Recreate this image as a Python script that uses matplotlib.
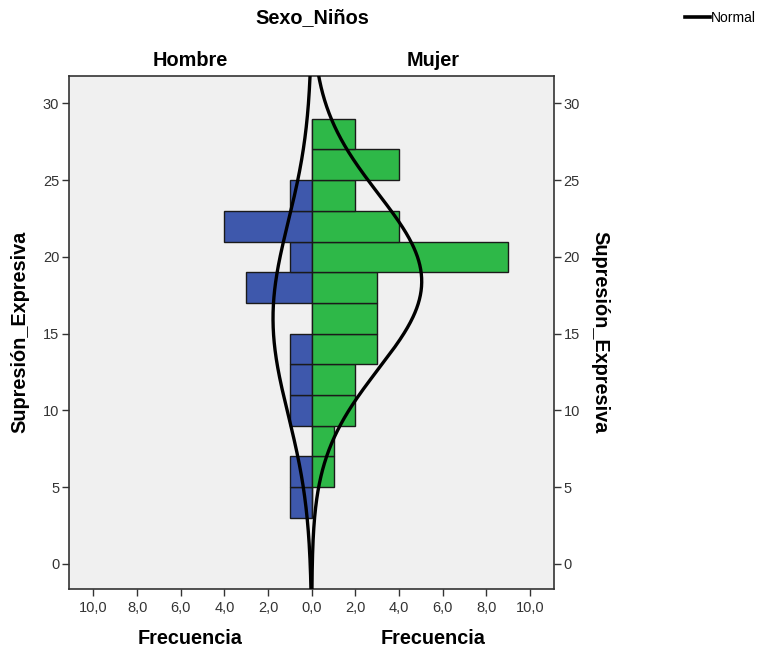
import numpy as np
import matplotlib
matplotlib.use("Agg")
import matplotlib.pyplot as plt
from matplotlib.ticker import FixedLocator, FuncFormatter

plt.rcParams['font.family'] = ['Liberation Sans', 'DejaVu Sans']

# ---- data ----
bin_edges_low = [3, 5, 7, 9, 11, 13, 15, 17, 19, 21, 23, 25, 27]
bin_width = 2
hombre_counts = [1, 1, 0, 1, 1, 1, 0, 3, 1, 4, 1, 0, 0]
mujer_counts = [0, 1, 1, 2, 2, 3, 3, 3, 9, 4, 2, 4, 2]
hombre_mean, hombre_sd = 16.0, 6.3
mujer_mean, mujer_sd = 18.4, 5.7
x_ticks = [-10, -8, -6, -4, -2, 0, 2, 4, 6, 8, 10]
y_ticks = [0, 5, 10, 15, 20, 25, 30]

blue = '#3E58AC'
green = '#2EB848'

fig = plt.figure(figsize=(7.57, 6.52), dpi=100)
ax = fig.add_axes([69/757, 1-589/652, (554-69)/757, (589-76)/652])
ax.set_facecolor('#F0F0F0')

lows = np.array(bin_edges_low)
ax.barh(lows, -np.array(hombre_counts), height=bin_width, align='edge',
        color=blue, edgecolor='#1a1a1a', linewidth=1.0, zorder=2)
ax.barh(lows, np.array(mujer_counts), height=bin_width, align='edge',
        color=green, edgecolor='#1a1a1a', linewidth=1.0, zorder=2)

ys = np.linspace(-2, 33, 500)
def normal_curve(counts, mu, sd):
    n = sum(counts)
    return n * bin_width * np.exp(-0.5 * ((ys - mu) / sd) ** 2) / (sd * np.sqrt(2 * np.pi))

ax.plot(-normal_curve(hombre_counts, hombre_mean, hombre_sd), ys, color='black', lw=2.4, zorder=3)
ax.plot(normal_curve(mujer_counts, mujer_mean, mujer_sd), ys, color='black', lw=2.4, zorder=3)

ax.set_xlim(-11.12, 11.1)
ax.set_ylim(-1.63, 31.78)

ax.xaxis.set_major_locator(FixedLocator(x_ticks))
ax.xaxis.set_major_formatter(FuncFormatter(lambda v, p: f"{abs(v):.1f}".replace('.', ',')))
ax.yaxis.set_major_locator(FixedLocator(y_ticks))
ax.tick_params(axis='both', direction='out', length=5, width=1, color='#333333',
               labelsize=10.5, labelcolor='#333333')
ax.tick_params(axis='y', right=True, labelright=True, pad=2)
for s in ax.spines.values():
    s.set_color('#333333')
    s.set_linewidth(1.2)

# titles and labels
fs = 14.3
fig.text(312/757, 1-18/652, 'Sexo_Niños', ha='center', va='center', fontsize=fs, fontweight='bold')
fig.text(190/757, 1-60/652, 'Hombre', ha='center', va='center', fontsize=fs, fontweight='bold')
fig.text(433/757, 1-60/652, 'Mujer', ha='center', va='center', fontsize=fs, fontweight='bold')
fig.text(190/757, 1-639/652, 'Frecuencia', ha='center', va='center', fontsize=fs, fontweight='bold')
fig.text(433/757, 1-639/652, 'Frecuencia', ha='center', va='center', fontsize=fs, fontweight='bold')
fig.text(20/757, 1-332/652, 'Supresión_Expresiva', ha='center', va='center', fontsize=fs,
         fontweight='bold', rotation=90)
fig.text(600/757, 1-332/652, 'Supresión_Expresiva', ha='center', va='center', fontsize=fs,
         fontweight='bold', rotation=-90)

# legend
fig.lines.append(plt.Line2D([685/757, 710/757], [1-17/652, 1-17/652], transform=fig.transFigure,
                            color='black', lw=2.6))
fig.text(711/757, 1-18/652, 'Normal', ha='left', va='center', fontsize=10)

fig.savefig('out.png', dpi=100, facecolor='white')
